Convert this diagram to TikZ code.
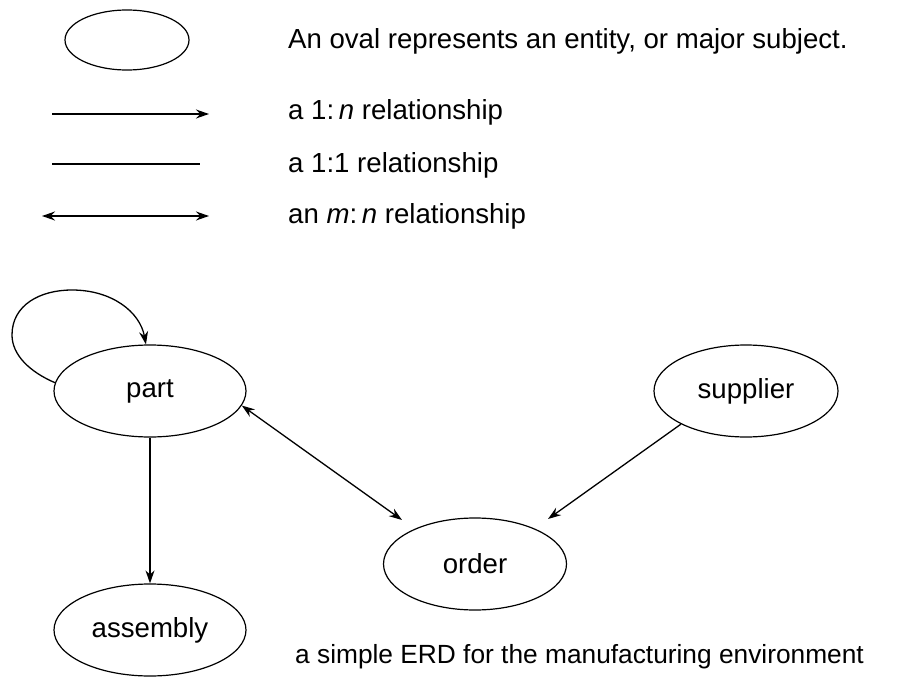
\documentclass[tikz,border=0pt]{standalone}
\usepackage{fontspec}
\setmainfont{Liberation Sans}
\usetikzlibrary{arrows.meta,shapes.geometric}
\begin{document}
\begin{tikzpicture}[x=1pt,y=-1pt,
  ent/.style={draw, ellipse, line width=1.2pt, inner sep=0pt, minimum width=192pt, minimum height=92pt, font=\fontsize{27.6}{32}\selectfont},
  lbl/.style={anchor=base west, inner sep=0pt, font=\fontsize{27.6}{32}\selectfont},
  conn/.style={line width=1.3pt},
  tip/.style={-{Stealth[length=13pt,width=9pt]}},
  tips/.style={{Stealth[length=13pt,width=9pt]}-{Stealth[length=13pt,width=9pt]}}]
\useasboundingbox (0,0) rectangle (900,677);
% legend
\node[draw, ellipse, line width=1.2pt, minimum width=124pt, minimum height=60pt, inner sep=0pt] (legoval) at (127,40) {};
\node[lbl] (t1) at (288,49) {An oval represents an entity, or major subject.};
\coordinate (a1) at (52,114); \coordinate (b1) at (209,114);
\draw[conn,tip] (a1) -- (b1);
\node[lbl] (t2) at (288,119) {a 1:\,\textit{n} relationship};
\coordinate (a2) at (52,164); \coordinate (b2) at (200,164);
\draw[conn] (a2) -- (b2);
\node[lbl] (t3) at (288,172) {a 1:1 relationship};
\coordinate (a3) at (42,216); \coordinate (b3) at (209,216);
\draw[conn,tips] (a3) -- (b3);
\node[lbl] (t4) at (288,223) {an \textit{m}:\,\textit{n} relationship};
% entities
\node[ent] (part) at (150,391) {part};
\node[ent] (assembly) at (150,630) {assembly};
\node[ent, minimum width=183pt] (order) at (475,564) {order};
\node[ent, minimum width=184pt] (supplier) at (746,391) {supplier};
% connector ends (arrow tips stop short of the order oval)
\coordinate (orderL) at (402,520);
\coordinate (orderR) at (548,519);
% connectors
\draw[conn,tip] (part.175) .. controls (30,372) and (12,355) .. (12,335)
  .. controls (12,305) and (40,290) .. (72,290)
  .. controls (112,290) and (140,312) .. (part.95);
\draw[conn,tip] (part) -- (assembly);
\draw[conn,tips] (part.-9) -- (orderL);
\draw[conn,tip] (supplier.207) -- (orderR);
\node[lbl, font=\fontsize{26.3}{31}\selectfont] (cap) at (295,663) {a simple ERD for the manufacturing environment};
\end{tikzpicture}
\end{document}
